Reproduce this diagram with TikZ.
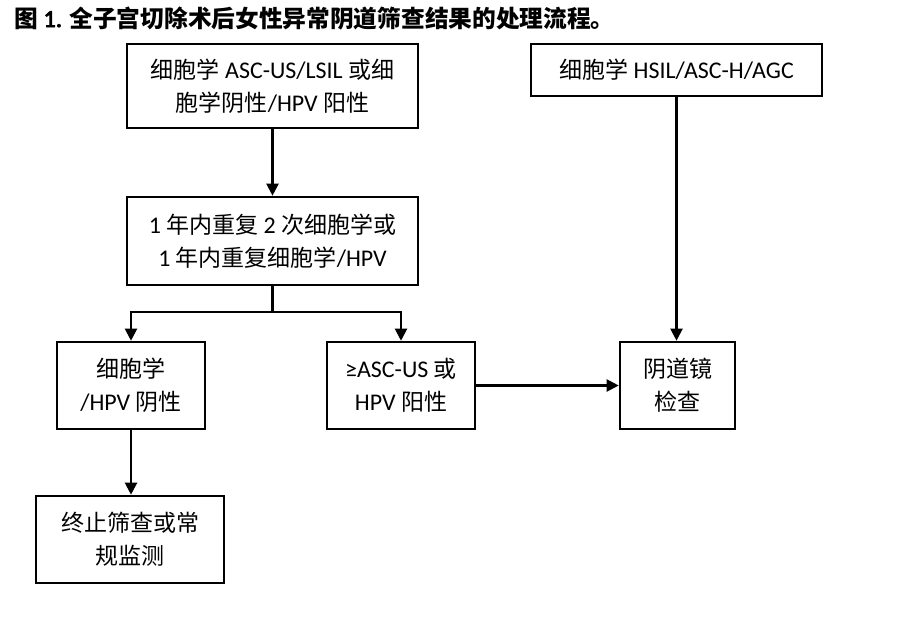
\documentclass[tikz,border=0pt]{standalone}
\usepackage{fontspec}
\setmainfont{Carlito}[Scale=1.04]
\newfontfamily\cjk{Noto Sans CJK SC}
\newfontfamily\titlenum{Carlito}[FakeBold=3]
\newcommand\zh[1]{{\cjk #1}}
\usetikzlibrary{arrows.meta}
\tikzset{
  box/.style={draw=black, line width=2.6pt, inner sep=0pt, align=center,
    font=\fontsize{23}{33}\selectfont, text=black},
  conn/.style={line width=2.1pt, -{Triangle[length=12pt,width=12pt]}},
  plain/.style={line width=2.1pt}
}
\begin{document}
\begin{tikzpicture}[x=1pt,y=-1pt]
\useasboundingbox (0,0) rectangle (917,624);
\node[anchor=base west, inner sep=0pt, font=\fontsize{23.7}{27}\selectfont\bfseries] (title) at (14,27)
  {\zh{图} {\titlenum\mdseries\fontsize{24.5}{27}\selectfont 1.} \zh{全子宫切除术后女性异常阴道筛查结果的处理流程。}};
\node[box, minimum width=291pt, minimum height=84pt] (a) at (272.5,86)
  {\zh{细胞学} ASC-US/LSIL \zh{或细}\\\zh{胞学阴性}/HPV \zh{阳性}};
\node[box, minimum width=291pt, minimum height=52pt] (b) at (676.5,70)
  {\zh{细胞学} HSIL/ASC-H/AGC};
\node[box, minimum width=291pt, minimum height=88pt] (c) at (272.5,241)
  {1 \zh{年内重复} 2 \zh{次细胞学或}\\1 \zh{年内重复细胞学}/HPV};
\node[box, minimum width=148pt, minimum height=87pt] (d) at (131,385.5)
  {\zh{细胞学}\\/HPV \zh{阴性}};
\node[box, minimum width=148pt, minimum height=87pt] (e) at (401,385.5)
  {≥ASC-US \zh{或}\\HPV \zh{阳性}};
\node[box, minimum width=115pt, minimum height=87pt] (f) at (677.5,385.5)
  {\zh{阴道镜}\\\zh{检查}};
\node[box, minimum width=188pt, minimum height=87pt] (g) at (130,539.5)
  {\zh{终止筛查或常}\\\zh{规监测}};
\coordinate (split) at (272.5,312);
\draw[conn] (a) -- (c);
\draw[plain] (c.south) -- (split);
\draw[conn] (split) -| (d.north);
\draw[conn] (split) -| (e.north);
\draw[conn] (d.south) -- (d.south |- g.north);
\draw[conn] (e.east) -- (f.west);
\draw[conn] (b.south) -- (b.south |- f.north);
\end{tikzpicture}
\end{document}
